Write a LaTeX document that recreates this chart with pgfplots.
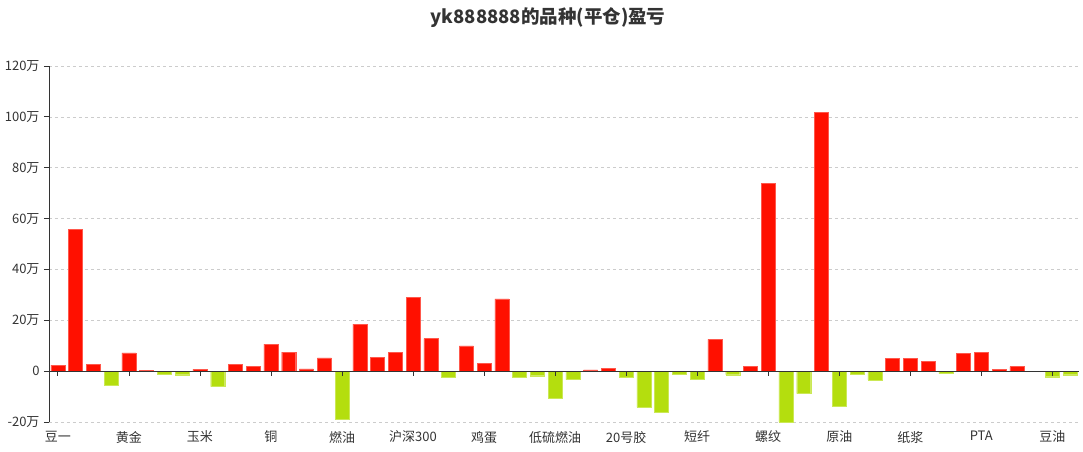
\documentclass[border=0pt]{standalone}
\usepackage{fontspec}
\setmainfont{Noto Sans CJK SC}
\usepackage{pgfplots}
\pgfplotsset{compat=1.18}
\definecolor{barred}{RGB}{255,16,0}
\definecolor{bargreen}{RGB}{180,222,14}
\definecolor{txt}{RGB}{51,51,51}
\definecolor{gridc}{RGB}{204,204,204}
\begin{document}
\begin{tikzpicture}
\path[use as bounding box] (-49pt,-29pt) rectangle (1034pt,422pt);
\begin{axis}[
  at={(0pt,0pt)}, anchor=south west,
  scale only axis, width=1030pt, height=356pt,
  xmin=-0.5, xmax=57.5, ymin=-20, ymax=120,
  axis x line*=bottom, axis y line*=left,
  x axis line style={draw=none},
  y axis line style={-, draw=txt, line width=0.8pt},
  ytick={-20,0,20,40,60,80,100,120},
  yticklabels={-20万,0,20万,40万,60万,80万,100万,120万},
  xtick={0,4,8,12,16,20,24,28,32,36,40,44,48,52,56},
  xticklabels={豆一,黄金,玉米,铜,燃油,沪深300,鸡蛋,低硫燃油,20号胶,短纤,螺纹,原油,纸浆,PTA,豆油},
  tick label style={font=\fontsize{13}{15}\selectfont, text=txt},
  xtick style={draw=none},
  ytick style={draw=txt, line width=0.8pt},
  tick align=outside, major tick length=5pt,
  ymajorgrids, grid style={dashed, gridc, line width=0.6pt},
  xticklabel style={yshift=-0.5pt},
  yticklabel style={xshift=-1pt},
  ybar, bar width=14pt, bar shift=0pt,
  clip=true,
]
\addplot[fill=barred, draw=barred!70!white, line width=0.4pt] coordinates {
(0,2.4) (1,55.7) (2,2.8) (4,7.2) (5,0.4) (8,0.7) (10,2.7) (11,2.0) (12,10.6) (13,7.5) (14,0.9) (15,5.2)
(17,18.5) (18,5.4) (19,7.5) (20,29.1) (21,12.8) (23,9.9) (24,3.0) (25,28.4) (30,0.5) (31,1.0)
(37,12.5) (39,2.0) (40,73.8) (43,101.7) (47,5.0) (48,4.9) (49,3.9) (51,7.0) (52,7.5) (53,0.8) (54,1.8)
};
\addplot[fill=bargreen, draw=bargreen!70!white, line width=0.4pt] coordinates {
(3,-5.5) (6,-1.2) (7,-1.4) (9,-6.1) (16,-18.8) (22,-2.5) (26,-2.4) (27,-1.8) (28,-10.7) (29,-3.3)
(32,-2.5) (33,-14.2) (34,-16.1) (35,-1.3) (36,-3.0) (38,-1.4) (41,-20.0) (42,-8.8) (44,-13.8)
(45,-1.2) (46,-3.4) (50,-1.0) (56,-2.2) (57,-1.4)
};
\draw[txt, line width=0.8pt] (axis cs:-0.5,0) -- (axis cs:57.5,0);
\pgfplotsinvokeforeach{0,4,8,12,16,20,24,28,32,36,40,44,48,52,56}{
  \draw[txt, line width=0.8pt] (axis cs:#1,0) -- ++(0pt,-5pt);
}
\end{axis}
\node[font=\bfseries\fontsize{18.5}{22}\selectfont, text=txt] at (499pt,404pt) {yk888888的品种(平仓)盈亏};
\end{tikzpicture}
\end{document}
